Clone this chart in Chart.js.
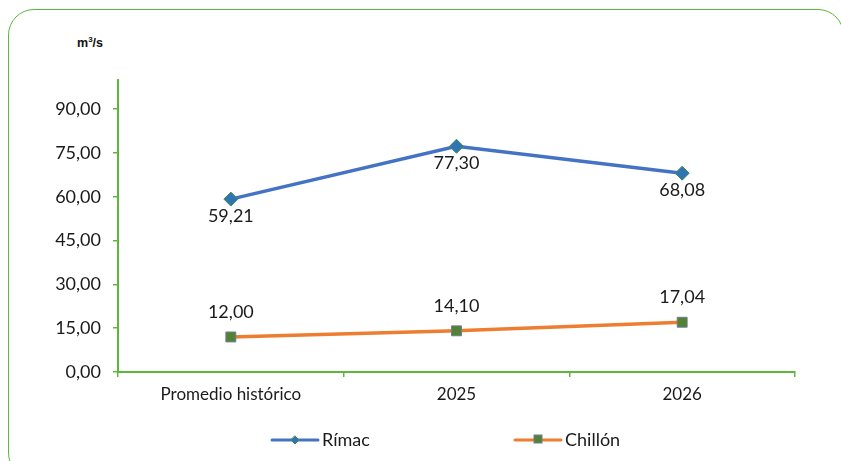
<!DOCTYPE html>
<html><head><meta charset="utf-8">
<script src="https://cdn.jsdelivr.net/npm/chart.js@4/dist/chart.umd.min.js"></script>
<style>
html,body{margin:0;padding:0;background:#fff;overflow:hidden}
#wrap{position:relative;width:841px;height:461px}
#frame{position:absolute;left:8px;top:9px;width:836px;height:470px;border:1.5px solid #5db83a;border-radius:26px;box-sizing:border-box}
#unit{position:absolute;left:77px;top:35px;font:bold 12.5px "Liberation Sans",Arial,sans-serif;color:#111}
canvas{position:absolute;left:0;top:0}
</style></head>
<body><div id="wrap"><div id="frame"></div><div id="unit">m<sup style="font-size:8px">3</sup>/s</div><canvas id="c" width="841" height="461"></canvas></div>
<script>
const categories = ["Promedio histórico", "2025", "2026"];
const rimac = [59.21, 77.30, 68.08];
const chillon = [12.00, 14.10, 17.04];
const seriesNames = ["Rímac", "Chillón"];
const yTicks = [0, 15, 30, 45, 60, 75, 90];

const green = '#5db83a';
const fmt = v => v.toFixed(2).replace('.', ',');
const FONT = 'Lato, "Noto Sans", sans-serif';

const labelPlugin = {
  id: 'vals',
  afterDatasetsDraw(chart) {
    const ctx = chart.ctx;
    ctx.save();
    ctx.font = '18px ' + FONT;
    ctx.fillStyle = '#1a1a1a';
    ctx.textAlign = 'center';
    ctx.textBaseline = 'middle';
    chart.data.datasets.forEach((ds, i) => {
      const meta = chart.getDatasetMeta(i);
      meta.data.forEach((pt, j) => {
        const off = i === 0 ? 17 : -25;
        ctx.fillText(fmt(ds.data[j]), pt.x, pt.y + off);
      });
    });
    ctx.restore();
  }
};

const legendPlugin = {
  id: 'customLegend',
  afterDraw(chart) {
    const ctx = chart.ctx;
    const y = 440;
    const items = [{x: 272, ds: chart.data.datasets[0]}, {x: 515, ds: chart.data.datasets[1]}];
    ctx.save();
    items.forEach(it => {
      ctx.strokeStyle = it.ds.borderColor;
      ctx.lineWidth = 3;
      ctx.lineCap = 'round';
      ctx.beginPath(); ctx.moveTo(it.x, y); ctx.lineTo(it.x + 46, y); ctx.stroke();
      const cx = it.x + 23;
      ctx.fillStyle = it.ds.pointBackgroundColor;
      ctx.strokeStyle = it.ds.pointBorderColor;
      ctx.lineWidth = 1;
      if (it.ds.pointStyle === 'rectRot') {
        ctx.beginPath(); ctx.moveTo(cx, y - 4); ctx.lineTo(cx + 4, y); ctx.lineTo(cx, y + 4); ctx.lineTo(cx - 4, y); ctx.closePath();
        ctx.fill(); ctx.stroke();
      } else {
        ctx.fillRect(cx - 4, y - 5, 8, 8); ctx.strokeRect(cx - 4, y - 5, 8, 8);
      }
      ctx.fillStyle = '#1a1a1a';
      ctx.font = '18px ' + FONT;
      ctx.textAlign = 'left';
      ctx.textBaseline = 'middle';
      ctx.fillText(it.ds.label, it.x + 50, y);
    });
    ctx.restore();
  }
};

new Chart(document.getElementById('c'), {
  type: 'line',
  data: {
    labels: categories,
    datasets: [
      { label: seriesNames[0], data: rimac, borderColor: '#4472C4', borderWidth: 3.5,
        pointStyle: 'rectRot', pointRadius: 7, pointBackgroundColor: '#2E75B6', pointBorderColor: '#4a8a4a', pointBorderWidth: 1, tension: 0 },
      { label: seriesNames[1], data: chillon, borderColor: '#ED7D31', borderWidth: 3.5,
        pointStyle: 'rect', pointRadius: 7, pointBackgroundColor: '#548235', pointBorderColor: '#6a7f8f', pointBorderWidth: 1, tension: 0 }
    ]
  },
  options: {
    responsive: false,
    animation: false,
    layout: { padding: { left: 0, right: 46, top: 80, bottom: 49 } },
    plugins: { legend: { display: false }, tooltip: { enabled: false } },
    scales: {
      x: {
        offset: true,
        grid: { offset: true, drawOnChartArea: false, drawTicks: true, tickLength: 5, color: green, lineWidth: 1.5 },
        border: { color: green, width: 2 },
        ticks: { font: { family: FONT, size: 17 }, color: '#1a1a1a', padding: 7, maxRotation: 0 },
        afterFit(s) { s.height = 40; }
      },
      y: {
        min: 0, max: 100,
        afterBuildTicks(s) { s.ticks = yTicks.map(v => ({ value: v })); },
        grid: { drawOnChartArea: false, drawTicks: true, tickLength: 5, color: green, lineWidth: 1.5 },
        border: { color: green, width: 2 },
        ticks: { font: { family: FONT, size: 18 }, color: '#1a1a1a', padding: 12, callback: v => fmt(v) },
        afterFit(s) { s.width = 118; }
      }
    }
  },
  plugins: [labelPlugin, legendPlugin]
});
</script></body></html>
